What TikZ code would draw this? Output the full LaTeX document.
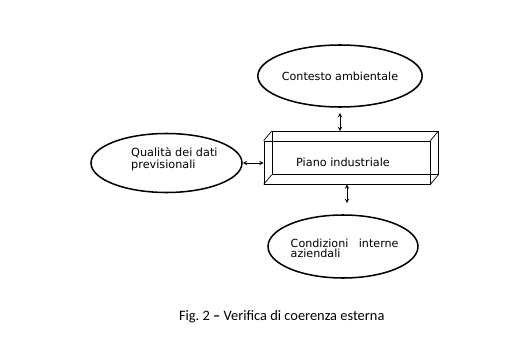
\documentclass[tikz,border=0pt]{standalone}
\usepackage{fontspec}
\setmainfont{DejaVu Sans}
\newfontfamily\capfont{Carlito}
\usetikzlibrary{shapes.geometric}
\newcommand\condlines{\lineskiplimit=-20pt\relax}
\begin{document}
\begin{tikzpicture}[>=stealth,x=0.03cm,y=-0.03cm,
		oval/.style={ellipse,draw,line width=1.3pt,inner sep=0pt,minimum width=4.5cm},
		face/.style={rectangle,draw,line width=0.6pt,inner sep=0pt,minimum width=4.98cm,minimum height=1.29cm},
		conn/.style={<->,line width=0.7pt},
		lbl/.style={inner sep=0pt,font=\fontsize{9.6}{10}\selectfont}]
		\useasboundingbox (0,0) rectangle (527,338);
		% ellipses
		\node[oval,minimum height=1.86cm,font=\fontsize{9.5}{10}\selectfont] (ctx) at (340,76) {Contesto ambientale};
		\node[oval,minimum width=4.53cm,minimum height=1.77cm] (qual) at (166.5,163) {};
		\node[oval,minimum height=1.89cm] (cond) at (343,246.5) {};
		% box
		\node[face] (back) at (355,153) {};
		\node[face] (front) at (347,162.5) {};
		\draw[line width=0.6pt] (front.north west)--(back.north west) (front.north east)--(back.north east)
			(front.south west)--(back.south west) (front.south east)--(back.south east);
		% texts
		\node[lbl,anchor=base] (piano) at (343,166.5) {Piano industriale};
		\node[lbl,anchor=west,align=left] (qualtxt) at (131,159) {Qualità dei dati\\previsionali};
		\node[inner sep=0pt,anchor=north west,text width=92pt,align=left,
			font=\fontsize{9.5}{6.3}\selectfont] (condtxt) at (290.5,238.8) {\condlines Condizioni\hfill interne\\aziendali};
		% arrows
		\draw[conn,shorten <=4.3pt] (ctx.south) -- (ctx.south |- back.north);
		\draw[conn] (qual.east) -- (qual.east -| front.west);
		\draw[conn,shorten >=9.4pt] (front.south) -- (front.south |- cond.north);
		% caption
		\node[inner sep=0pt,anchor=base,font=\capfont\fontsize{12.3}{14}\selectfont] (cap) at (281.7,320.5) {Fig.\ 2 \textbf{–} Verifica di coerenza esterna};
\end{tikzpicture}
\end{document}
